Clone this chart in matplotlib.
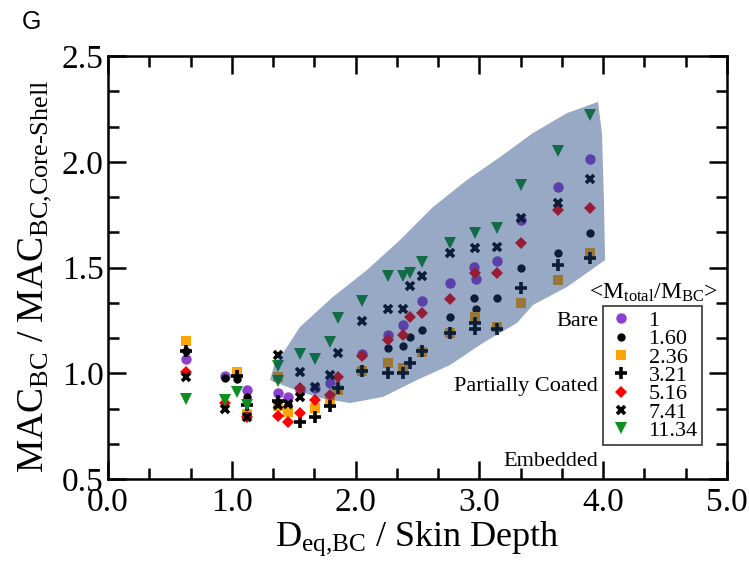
import matplotlib
matplotlib.use("Agg")
import matplotlib.pyplot as plt
from matplotlib.ticker import MultipleLocator, FormatStrFormatter
from matplotlib.patches import Polygon
import numpy as np

plt.rcParams['font.family'] = ['Liberation Serif', 'DejaVu Serif']
plt.rcParams['mathtext.fontset'] = 'custom'
plt.rcParams['mathtext.rm'] = 'Liberation Serif'
plt.rcParams['mathtext.it'] = 'Liberation Serif:italic'

# legend labels (<M_total/M_BC>)
labels = ['1', '1.60', '2.36', '3.21', '5.16', '7.41', '11.34']

# D_eq,BC / skin depth  vs  MAC_BC / MAC_BC,core-shell, one pair of lists per series
x_100 = [0.63, 0.945, 1.12, 1.37, 1.45, 1.55, 1.67, 1.79, 2.05, 2.26, 2.38, 2.54, 2.76, 2.96, 2.97, 3.14, 3.34, 3.635, 3.893]
y_100 = [1.067, 0.987, 0.921, 0.906, 0.888, 0.92, 0.93, 0.954, 1.09, 1.18, 1.23, 1.342, 1.427, 1.502, 1.446, 1.531, 1.725, 1.881, 2.013]

x_160 = [0.63, 0.945, 1.04, 1.12, 1.37, 1.45, 2.26, 2.38, 2.44, 2.54, 2.76, 2.96, 2.97, 3.14, 3.34, 3.635, 3.893]
y_160 = [1.105, 0.978, 0.973, 0.888, 0.847, 0.85, 1.12, 1.13, 1.17, 1.205, 1.266, 1.356, 1.304, 1.356, 1.498, 1.569, 1.663]

x_236 = [0.63, 1.04, 1.12, 1.37, 1.37, 1.45, 1.67, 1.79, 1.86, 2.05, 2.26, 2.38, 2.54, 2.76, 2.965, 3.14, 3.34, 3.635, 3.893]
y_236 = [1.152, 1.006, 0.807, 0.982, 0.847, 0.817, 0.835, 0.87, 0.92, 1.01, 1.05, 1.025, 1.10, 1.19, 1.266, 1.219, 1.332, 1.441, 1.569]

x_321 = [0.63, 1.04, 1.12, 1.37, 1.55, 1.67, 1.79, 1.86, 2.05, 2.26, 2.38, 2.44, 2.54, 2.76, 2.965, 2.965, 3.14, 3.34, 3.635, 3.893]
y_321 = [1.105, 0.985, 0.85, 0.87, 0.77, 0.793, 0.845, 0.93, 1.011, 1.001, 1.0, 1.05, 1.105, 1.19, 1.238, 1.21, 1.209, 1.403, 1.512, 1.545]

x_516 = [0.63, 0.945, 1.12, 1.37, 1.45, 1.55, 1.55, 1.67, 1.79, 1.86, 2.05, 2.26, 2.38, 2.44, 2.54, 2.76, 2.965, 3.14, 3.34, 3.635, 3.893]
y_516 = [1.006, 0.86, 0.793, 0.80, 0.77, 0.81, 0.93, 0.873, 0.897, 0.982, 1.08, 1.157, 1.18, 1.266, 1.285, 1.351, 1.474, 1.474, 1.616, 1.772, 1.781]

x_741 = [0.63, 0.945, 1.12, 1.37, 1.37, 1.45, 1.55, 1.55, 1.67, 1.79, 1.86, 2.05, 2.26, 2.38, 2.44, 2.54, 2.76, 2.965, 3.14, 3.34, 3.635, 3.893]
y_741 = [0.982, 0.831, 0.793, 1.086, 0.85, 0.855, 1.006, 0.888, 0.935, 0.992, 1.096, 1.247, 1.304, 1.304, 1.413, 1.46, 1.569, 1.592, 1.597, 1.734, 1.805, 1.918]

x_1134 = [0.63, 0.945, 1.04, 1.12, 1.37, 1.37, 1.55, 1.67, 1.79, 1.86, 2.05, 2.26, 2.38, 2.44, 2.54, 2.76, 2.965, 3.14, 3.34, 3.635, 3.893]
y_1134 = [0.878, 0.873, 0.911, 0.85, 1.034, 0.963, 1.091, 1.067, 1.148, 1.261, 1.342, 1.46, 1.46, 1.474, 1.526, 1.616, 1.663, 1.687, 1.89, 2.051, 2.221]

# outline of the shaded (partially coated) region
shade_x = [1.309, 1.349, 1.430, 1.551, 1.817, 2.092, 2.359, 2.625, 2.900, 3.166, 3.433, 3.708, 3.958,
           3.990, 4.006, 4.015, 3.708, 3.433, 3.304, 3.029, 2.763, 2.496, 2.221, 1.955, 1.712, 1.511]
shade_y = [0.968, 1.053, 1.110, 1.219, 1.361, 1.488, 1.630, 1.786, 1.914, 2.022, 2.136, 2.230, 2.283,
           2.136, 1.819, 1.535, 1.408, 1.323, 1.238, 1.143, 1.039, 0.968, 0.888, 0.859, 0.883, 0.921]

W, H = 749, 582
fig = plt.figure(figsize=(W / 100, H / 100), dpi=100)
ax = fig.add_axes([108 / W, 1 - 479 / H, 619 / W, 423 / H])

series = [
    (x_100, y_100, dict(marker='o', color='#8d3fd0', ms=7.5, mew=0)),
    (x_160, y_160, dict(marker='o', color='black', ms=6, mew=0)),
    (x_236, y_236, dict(marker='s', color='#ffa500', ms=7, mew=0)),
    (x_321, y_321, dict(marker='+', color='black', ms=8, mew=2.6)),
    (x_516, y_516, dict(marker='D', color='#ff0000', ms=6.5, mew=0)),
    (x_741, y_741, dict(marker='x', color='black', ms=6, mew=2.6)),
    (x_1134, y_1134, dict(marker='v', color='#0d8f1f', ms=8.5, mew=0)),
]
handles = []
for (xs, ys, st), lab in zip(series, labels):
    h, = ax.plot(xs, ys, linestyle='none', label=lab, zorder=2, **st)
    handles.append(h)

ax.add_patch(Polygon(np.column_stack([shade_x, shade_y]), closed=True,
                     facecolor='#1a427c', edgecolor='none', alpha=0.45, zorder=3))

ax.set_xlim(0, 5)
ax.set_ylim(0.5, 2.5)
ax.xaxis.set_major_locator(MultipleLocator(1.0))
ax.xaxis.set_minor_locator(MultipleLocator(1 / 3))
ax.yaxis.set_major_locator(MultipleLocator(0.5))
ax.yaxis.set_minor_locator(MultipleLocator(0.5 / 3))
ax.xaxis.set_major_formatter(FormatStrFormatter('%.1f'))
ax.yaxis.set_major_formatter(FormatStrFormatter('%.1f'))
ax.tick_params(which='both', direction='in', top=True, right=True, width=1.8, labelsize=24)
ax.tick_params(which='major', length=13)
ax.tick_params(which='minor', length=8)
ax.tick_params(axis='x', pad=6)
ax.tick_params(axis='y', pad=3)
for sp in ax.spines.values():
    sp.set_linewidth(1.8)

ax.set_xlabel(r'D$_{\mathrm{eq{,}BC}}$ / Skin Depth', fontsize=26, va='top')
ax.xaxis.set_label_coords(0.5, -0.095)
ax.set_ylabel(r'MAC$_{\mathrm{BC}}$ / MAC$_{\mathrm{BC{,}Core‐Shell}}$', fontsize=27)
ax.yaxis.set_label_coords(-0.088, 0.48)

leg = ax.legend(handles=handles, loc='upper left', bbox_to_anchor=(603 / W, 1 - 306 / H),
                bbox_transform=fig.transFigure, borderaxespad=0, fontsize=16, numpoints=1,
                labelspacing=-0.1, handlelength=1.25, handletextpad=0.6, borderpad=0.2,
                fancybox=False, framealpha=1, edgecolor='#333333')
leg.get_frame().set_linewidth(1.2)
leg.set_zorder(5)

fig.text(654 / W, 1 - 304 / H, r'<M$_{\mathrm{total}}$/M$_{\mathrm{BC}}$>', fontsize=17,
         ha='center', va='bottom')
fig.text(598 / W, 1 - 321 / H, 'Bare', fontsize=16, ha='right', va='center')
fig.text(598 / W, 1 - 386 / H, 'Partially Coated', fontsize=16, ha='right', va='center')
fig.text(598 / W, 1 - 461 / H, 'Embedded', fontsize=16, ha='right', va='center')
fig.text(31 / W, 1 - 22 / H, 'G', fontsize=18, ha='center', va='center', family='Liberation Sans')

fig.savefig('out.png', dpi=100)
